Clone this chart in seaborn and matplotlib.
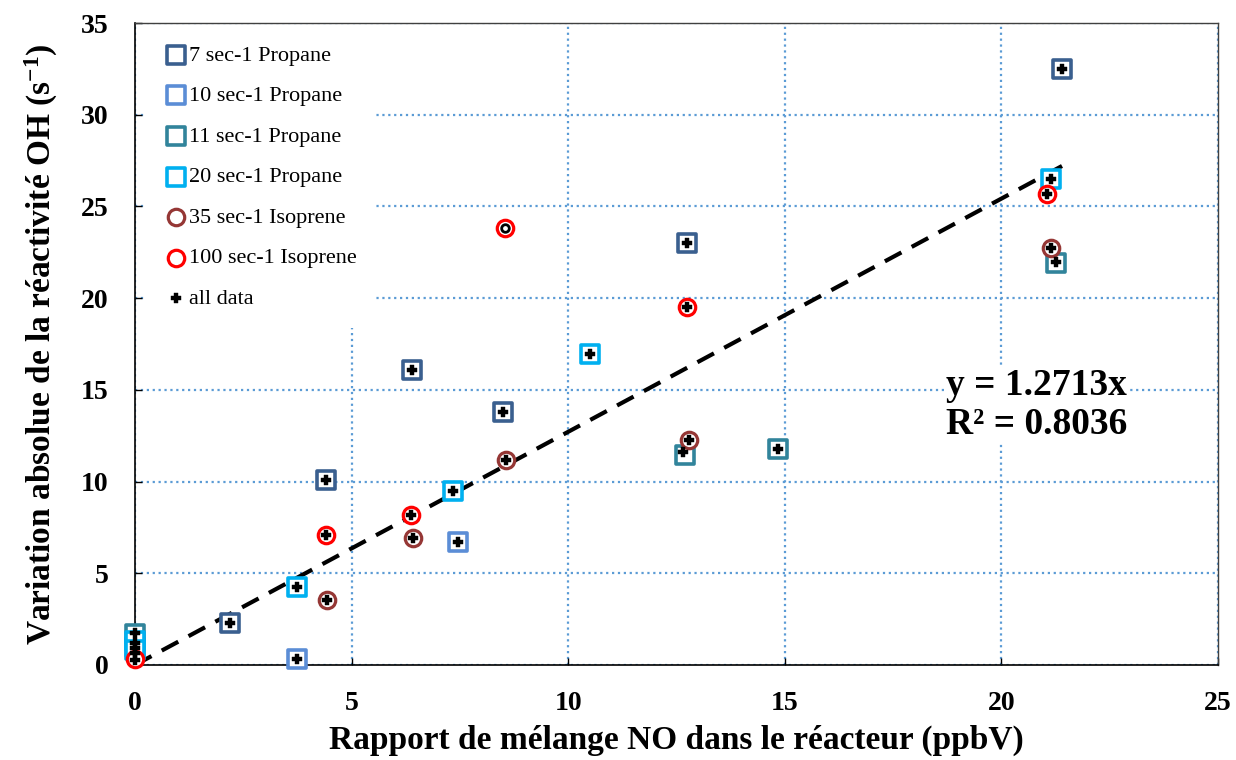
import matplotlib
matplotlib.use("Agg")

import matplotlib.pyplot as plt
import numpy as np
import seaborn as sns


sns.set_theme(style="white")
plt.rcParams["font.family"] = ["Liberation Serif", "DejaVu Serif"]
plt.rcParams["mathtext.fontset"] = "custom"
plt.rcParams["mathtext.rm"] = "Liberation Serif"
plt.rcParams["mathtext.bf"] = "Liberation Serif:bold"
plt.rcParams["mathtext.it"] = "Liberation Serif:italic"
plt.rcParams["text.color"] = "black"
plt.rcParams["axes.labelcolor"] = "black"
plt.rcParams["xtick.color"] = "black"
plt.rcParams["ytick.color"] = "black"

# series
p7_x = [2.2, 4.4, 6.4, 8.5, 12.75, 21.4]
p7_y = [2.3, 10.1, 16.1, 13.8, 23.0, 32.5]

p10_x = [0.0, 3.75, 7.45]
p10_y = [1.0, 0.35, 6.7]

p11_x = [0.0, 12.7, 14.85, 21.25]
p11_y = [1.7, 11.45, 11.8, 21.9]

p20_x = [0.0, 0.0, 3.75, 7.35, 10.5, 21.15]
p20_y = [1.3, 0.8, 4.25, 9.5, 16.95, 26.5]

i35_x = [4.43, 6.42, 8.57, 12.8, 21.15]
i35_y = [3.55, 6.95, 11.15, 12.25, 22.75]

i100_x = [0.0, 4.4, 6.38, 8.55, 12.75, 21.05]
i100_y = [0.3, 7.1, 8.2, 23.8, 19.5, 25.7]

all_x = [0, 0, 0, 0, 0, 2.2, 3.75, 3.75, 4.4, 4.43, 4.4, 6.4, 6.42, 6.38,
         7.35, 7.45, 8.5, 8.57, 10.5, 12.65, 12.75, 12.75, 12.8, 14.85,
         21.05, 21.15, 21.15, 21.25, 21.4]
all_y = [1.75, 1.2, 0.93, 0.65, 0.27, 2.3, 4.25, 0.35, 10.1, 3.55, 7.1,
         16.1, 6.95, 8.2, 9.5, 6.7, 13.8, 11.15, 16.95, 11.6, 23.0, 19.5,
         12.25, 11.8, 25.7, 26.5, 22.75, 21.95, 32.5]

ring_x = [8.55]
ring_y = [23.8]

slope = 1.2713
r2 = 0.8036
fit_x = np.array([0.0, 21.4])
fit_y = slope * fit_x

squares = [
    (p7_x, p7_y, "#3A5F8F", "7 sec-1 Propane"),
    (p10_x, p10_y, "#5B8DD6", "10 sec-1 Propane"),
    (p11_x, p11_y, "#31849B", "11 sec-1 Propane"),
    (p20_x, p20_y, "#00B0F0", "20 sec-1 Propane"),
]
circles = [
    (i35_x, i35_y, "#953735", "35 sec-1 Isoprene"),
    (i100_x, i100_y, "#FF0000", "100 sec-1 Isoprene"),
]

fig, ax = plt.subplots(figsize=(12.36, 7.6), dpi=100)
fig.subplots_adjust(left=0.1092, right=0.9854, bottom=0.125, top=0.9697)

sns.lineplot(x=fit_x, y=fit_y, ax=ax, color="black", linewidth=3,
             dashes=False, zorder=3)
ax.lines[-1].set_dashes((4.5, 2.8))
ax.lines[-1].set_label("_nolegend_")

for xs, ys, c, lab in squares:
    sns.scatterplot(x=xs, y=ys, ax=ax, marker="s", s=165, facecolor="white",
                    edgecolor=c, linewidth=2.6, label=lab, zorder=4,
                    clip_on=False)
for xs, ys, c, lab in circles:
    sns.scatterplot(x=xs, y=ys, ax=ax, marker="o", s=140, facecolor="white",
                    edgecolor=c, linewidth=2.3, label=lab, zorder=4,
                    clip_on=False)

sns.scatterplot(x=ring_x, y=ring_y, ax=ax, marker="o", s=30, facecolor="white",
                edgecolor="black", linewidth=2, zorder=5)
sns.scatterplot(x=all_x, y=all_y, ax=ax, marker="P", s=45, color="black",
                edgecolor="black", linewidth=0.3, label="all data", zorder=5,
                clip_on=False)

ax.set_xlim(0, 25)
ax.set_ylim(0, 35)
ax.set_xticks(range(0, 26, 5))
ax.set_yticks(range(0, 36, 5))

ax.grid(True, linestyle=":", color="#5B9BD5", linewidth=1.6)
ax.set_axisbelow(True)
for side in ["left", "bottom"]:
    ax.spines[side].set_color("black")
    ax.spines[side].set_linewidth(1.2)
for side in ["top", "right"]:
    ax.spines[side].set_color("#404040")
    ax.spines[side].set_linewidth(1.0)

ax.tick_params(axis="both", direction="in", length=5, width=1, pad=19,
               labelsize=20, left=True, bottom=True, colors="black")
for lbl in ax.get_xticklabels() + ax.get_yticklabels():
    lbl.set_fontweight("bold")

ax.set_xlabel("Rapport de mélange NO dans le réacteur (ppbV)",
              fontsize=24, fontweight="bold", labelpad=6)
ax.set_ylabel("Variation absolue de la réactivité OH (s$^{\\mathbf{-1}}$)",
              fontsize=24, fontweight="bold", labelpad=15)

ax.text(18.72, 14.2, f"y = {slope}x\nR² = {r2}", fontsize=27,
        fontweight="bold", ha="left", va="center", linespacing=1.15,
        zorder=6, bbox=dict(facecolor="white", edgecolor="none", pad=1))

leg = ax.legend(loc="upper left", bbox_to_anchor=(0.01, 0.995),
                fontsize=16, frameon=True, fancybox=False, framealpha=1,
                edgecolor="none", facecolor="white", labelspacing=0.9,
                handlelength=1.0, handletextpad=0.1, borderpad=0.85,
                borderaxespad=0)
leg.set_zorder(10)

fig.savefig("out.png", dpi=100)
plt.close(fig)
